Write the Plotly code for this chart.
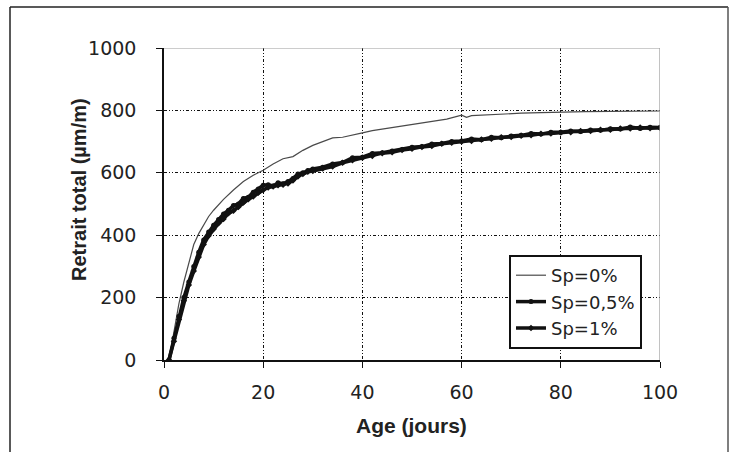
import plotly.graph_objects as go

# ---- data ----
days_sp0 = [1, 2, 3, 4, 5, 6, 7, 8, 9, 10, 12, 14, 16, 18, 20, 22, 24, 26, 28, 30,
            32, 34, 36, 38, 40, 42, 45, 48, 51, 54, 57, 60, 61, 62, 64, 68, 72, 76,
            80, 85, 90, 95, 100]
sp0 = [0, 90, 180, 250, 310, 370, 405, 435, 460, 480, 515, 545, 572, 592, 608,
       628, 645, 652, 672, 688, 700, 712, 714, 722, 728, 735, 742, 750, 756, 764,
       772, 785, 778, 783, 785, 788, 791, 793, 795, 796, 797, 798, 798]

days_sp05 = [1, 2, 3, 4, 5, 6, 7, 8, 9, 10, 11, 12, 13, 14, 15, 16, 17, 18, 19, 20,
             21, 22, 23, 24, 25, 26, 27, 28, 29, 30, 32, 34, 36, 38, 40, 42, 44, 46,
             48, 50, 52, 54, 56, 58, 60, 62, 64, 66, 68, 70, 72, 74, 76, 78, 80, 82,
             84, 86, 88, 90, 92, 94, 96, 98, 100]
sp05 = [0, 70, 140, 200, 250, 300, 345, 385, 410, 432, 450, 468, 480, 495, 500,
        518, 522, 538, 548, 560, 562, 558, 568, 565, 572, 582, 596, 600, 607, 612,
        618, 628, 633, 648, 650, 662, 664, 670, 675, 682, 684, 692, 694, 700, 702,
        708, 706, 714, 712, 718, 720, 726, 724, 730, 730, 734, 732, 737, 736, 741,
        740, 747, 742, 746, 745]

days_sp1 = [1, 2, 3, 4, 5, 6, 7, 8, 9, 10, 11, 12, 13, 14, 15, 16, 17, 18, 19, 20,
            21, 22, 23, 24, 25, 26, 27, 28, 29, 30, 32, 34, 36, 38, 40, 42, 44, 46,
            48, 50, 52, 54, 56, 58, 60, 62, 64, 66, 68, 70, 72, 74, 76, 78, 80, 82,
            84, 86, 88, 90, 92, 94, 96, 98, 100]
sp1 = [0, 60, 130, 190, 240, 285, 330, 370, 398, 420, 438, 452, 470, 478, 490,
       505, 515, 524, 536, 545, 553, 556, 560, 562, 566, 575, 588, 596, 603, 606,
       614, 620, 632, 640, 648, 654, 663, 666, 673, 677, 683, 686, 693, 696, 700,
       702, 707, 709, 714, 715, 719, 720, 725, 726, 729, 730, 734, 734, 738, 738,
       742, 742, 745, 743, 744]

x_ticks = [0, 20, 40, 60, 80, 100]
y_ticks = [0, 200, 400, 600, 800, 1000]

TICKFONT = "DejaVu Sans, sans-serif"
TITLEFONT = "Liberation Sans, Arial, sans-serif"

fig = go.Figure()
fig.add_trace(go.Scatter(x=days_sp0, y=sp0, name="Sp=0%", mode="lines",
                         line=dict(color="#4a4a4a", width=1.2)))
fig.add_trace(go.Scatter(x=days_sp05, y=sp05, name="Sp=0,5%", mode="lines+markers",
                         line=dict(color="#111111", width=3.5),
                         marker=dict(size=5, color="#111111", symbol="circle")))
fig.add_trace(go.Scatter(x=days_sp1, y=sp1, name="Sp=1%", mode="lines+markers",
                         line=dict(color="#111111", width=3.5),
                         marker=dict(size=5, color="#111111", symbol="diamond")))

grid = dict(showgrid=True, gridcolor="#111111", gridwidth=1,
            griddash="3px,2px,1px,2px,1px,2px")

fig.update_xaxes(range=[0, 100], tickvals=x_ticks, showline=True, linecolor="#111111",
                 linewidth=1.5, ticks="outside", ticklen=6, tickcolor="#111111",
                 ticklabelstandoff=8, zeroline=False,
                 tickfont=dict(family=TICKFONT, size=19, color="#222222"),
                 **grid)
fig.update_yaxes(range=[0, 1000], tickvals=y_ticks, showline=True, linecolor="#111111",
                 linewidth=1.5, ticks="outside", ticklen=6, tickcolor="#111111",
                 ticklabelstandoff=16, zeroline=False,
                 tickfont=dict(family=TICKFONT, size=19, color="#222222"),
                 **grid)

L, R, T, B = 164, 79, 48, 92
W, H = 739, 452
pw, ph = W - L - R, H - T - B

def px(x):
    return (x - L) / pw

def py(y):
    return (H - B - y) / ph

shapes = [
    # plot area top / right borders (grey)
    dict(type="line", xref="x", yref="y", x0=0, x1=100, y0=1000, y1=1000,
         line=dict(color="#9a9a9a", width=1.2)),
    dict(type="line", xref="x", yref="y", x0=100, x1=100, y0=0, y1=1000,
         line=dict(color="#9a9a9a", width=1.2)),
    # outer frame
    dict(type="line", xref="paper", yref="paper", x0=px(10), x1=px(10), y0=py(7), y1=py(452),
         line=dict(color="#222222", width=1.5)),
    dict(type="line", xref="paper", yref="paper", x0=px(10), x1=px(728), y0=py(7), y1=py(7),
         line=dict(color="#222222", width=1.5)),
    dict(type="line", xref="paper", yref="paper", x0=px(728), x1=px(728), y0=py(7), y1=py(452),
         line=dict(color="#555555", width=1.5)),
]

annotations = [
    dict(text="<b>Age (jours)</b>", xref="paper", yref="paper", x=px(411), y=py(425),
         showarrow=False, font=dict(family=TITLEFONT, size=21, color="#222222"),
         xanchor="center", yanchor="middle"),
    dict(text="<b>Retrait total (µm/m)</b>", xref="paper", yref="paper", x=px(79), y=py(190),
         showarrow=False, textangle=-90, font=dict(family=TITLEFONT, size=20, color="#222222"),
         xanchor="center", yanchor="middle"),
]

fig.update_layout(
    width=W, height=H,
    margin=dict(l=L, r=R, t=T, b=B),
    paper_bgcolor="white", plot_bgcolor="white",
    showlegend=True,
    legend=dict(x=px(509), y=py(255), xanchor="left", yanchor="top",
                bgcolor="white", bordercolor="#111111", borderwidth=2,
                font=dict(family=TICKFONT, size=18, color="#222222"),
                itemwidth=30, tracegroupgap=0),
    shapes=shapes,
    annotations=annotations,
)

fig.write_html("out.html")
